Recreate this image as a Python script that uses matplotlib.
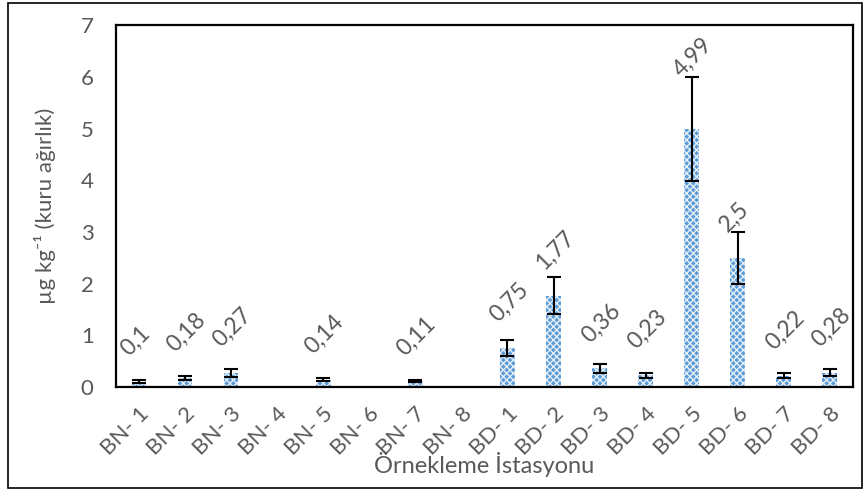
import matplotlib.pyplot as plt
import numpy as np
from matplotlib.patches import Rectangle

# istasyonlar ve değerler
stations = ['BN- 1', 'BN- 2', 'BN- 3', 'BN- 4', 'BN- 5', 'BN- 6', 'BN- 7', 'BN- 8',
            'BD- 1', 'BD- 2', 'BD- 3', 'BD- 4', 'BD- 5', 'BD- 6', 'BD- 7', 'BD- 8']
values = [0.1, 0.18, 0.27, np.nan, 0.14, np.nan, 0.11, np.nan,
          0.75, 1.77, 0.36, 0.23, 4.99, 2.5, 0.22, 0.28]
errors = [0.03, 0.04, 0.07, np.nan, 0.03, np.nan, 0.02, np.nan,
          0.15, 0.35, 0.08, 0.05, 1.0, 0.5, 0.05, 0.06]
labels = ['0,1', '0,18', '0,27', '', '0,14', '', '0,11', '',
          '0,75', '1,77', '0,36', '0,23', '4,99', '2,5', '0,22', '0,28']

plt.rcParams['font.family'] = ['Lato', 'DejaVu Sans']
gray = '#595959'

fig = plt.figure(figsize=(8.68, 4.93), dpi=100)
ax = fig.add_axes([0.1336, 0.215, 0.849, 0.734])

x = np.arange(len(stations))
plt.rcParams['hatch.linewidth'] = 1.0
ax.bar(x, np.nan_to_num(values), width=0.32, color='#5b9bd5', edgecolor='#e3eef9',
       hatch='xxxxx', linewidth=0)
ax.errorbar(x, values, yerr=errors, fmt='none', ecolor='black', elinewidth=1.5,
            capsize=5, capthick=1.5)

for xi, v, e, lab in zip(x, values, errors, labels):
    if not lab:
        continue
    # büyük hata çubuğu varsa etiketi çubuğun üstüne taşı
    if e > 0.6:
        pos, dy = (xi, v + e), 0
    else:
        pos, dy = (xi, v), 18
    ax.annotate(lab, pos, xytext=(-7, dy), textcoords='offset points',
                rotation=45, rotation_mode='anchor', ha='left', va='baseline',
                fontsize=16.5, color=gray)

ax.set_xlim(-0.5, len(stations) - 0.5)
ax.set_ylim(0, 7)
ax.set_yticks(range(8))
ax.set_xticks(x)
ax.set_xticklabels(stations, rotation=45, ha='right', rotation_mode='anchor')
ax.tick_params(axis='both', length=0, labelsize=16, labelcolor=gray)
ax.tick_params(axis='y', pad=16)
ax.tick_params(axis='x', pad=12)
for s in ax.spines.values():
    s.set_linewidth(1.6)
    s.set_color('black')

ax.set_ylabel('µg kg⁻¹ (kuru ağırlık)', fontsize=16, color=gray, labelpad=18)
ax.set_xlabel('Örnekleme İstasyonu', fontsize=17, color=gray, labelpad=-5)

fig.patches.append(Rectangle((8 / 868, 5 / 493), 854 / 868, 485 / 493,
                             transform=fig.transFigure, fill=False,
                             edgecolor='black', linewidth=1.2))

fig.savefig('out.png', dpi=100)
